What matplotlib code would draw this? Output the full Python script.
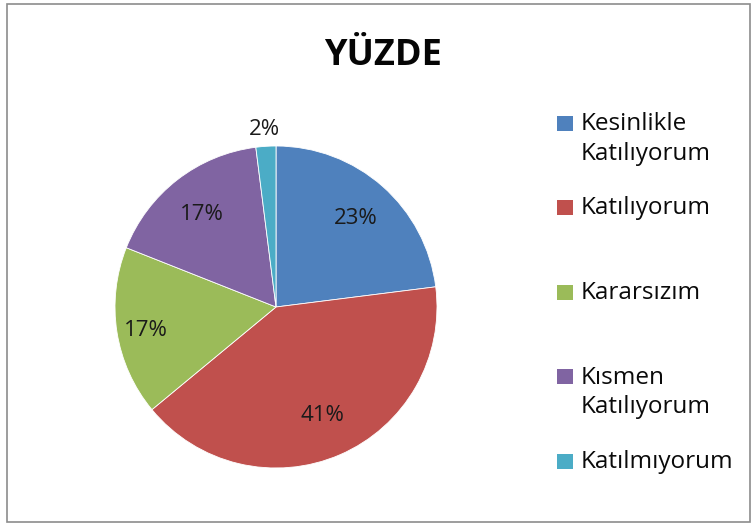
import matplotlib
matplotlib.use("Agg")
import matplotlib.pyplot as plt
from matplotlib.patches import Rectangle
import numpy as np

plt.rcParams['font.family'] = ['Open Sans', 'DejaVu Sans']

title = "YÜZDE"
categories = ["Kesinlikle\nKatılıyorum", "Katılıyorum", "Kararsızım", "Kısmen\nKatılıyorum", "Katılmıyorum"]
values = [23, 41, 17, 17, 2]
colors = ["#4F81BD", "#C0504D", "#9BBB59", "#8064A2", "#4BACC6"]
label_dist = [0.75, 0.72, 0.82, 0.75, 1.12]

W, H = 754, 526
fig = plt.figure(figsize=(W / 100, H / 100), dpi=100)

# outer border
fig.patches.append(Rectangle((7 / W, 4 / H), 743 / W, 518 / H, transform=fig.transFigure,
                             fill=False, edgecolor="#8C8C8C", linewidth=1.2))

cx, cy, r = 276, 307, 161
ax = fig.add_axes([(cx - r) / W, (H - cy - r) / H, 2 * r / W, 2 * r / H])
wedges, texts, autotexts = ax.pie(values, colors=colors, startangle=90, counterclock=False,
                                  autopct=lambda p: f"{p:.0f}%", pctdistance=0.73,
                                  wedgeprops=dict(edgecolor="white", linewidth=0.6),
                                  textprops=dict(fontsize=16, color="#1a1a1a", va="center_baseline"))
for w, t, d in zip(wedges, autotexts, label_dist):
    ang = np.deg2rad((w.theta1 + w.theta2) / 2)
    t.set_position((d * np.cos(ang), d * np.sin(ang)))
ax.set_xlim(-1, 1)
ax.set_ylim(-1, 1)
ax.set_aspect("equal")
ax.axis("off")

fig.text(383 / W, 1 - 56 / H, title, ha="center", va="center", fontsize=26, fontweight="bold",
         color="#050505")

# legend
for i, (lab, col) in enumerate(zip(categories, colors)):
    y = 123 + i * 84.5
    fig.patches.append(Rectangle((557 / W, 1 - (y + 7.5) / H), 16 / W, 15 / H,
                                 transform=fig.transFigure, facecolor=col, edgecolor="none"))
    fig.text(581 / W, 1 - (y - 11) / H, lab, ha="left", va="top", fontsize=17.5,
             linespacing=1.32, color="#0a0a0a")

fig.savefig("out.png", dpi=100)
